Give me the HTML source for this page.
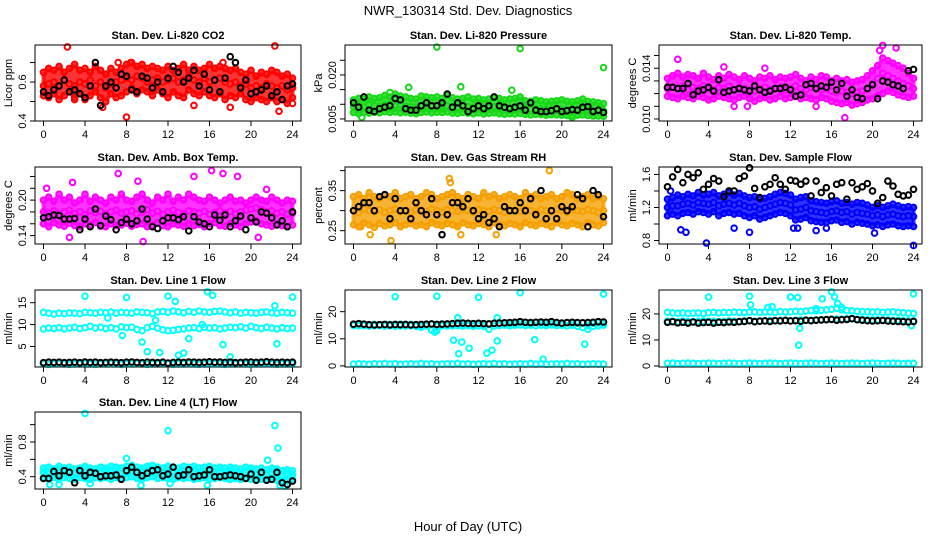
<!DOCTYPE html>
<html><head><meta charset="utf-8">
<style>
html,body{margin:0;padding:0;background:#fff;}
svg{display:block;font-family:"Liberation Sans",Arial,sans-serif;}
</style></head>
<body>
<svg id="chart" width="936" height="540" viewBox="0 0 936 540" xmlns="http://www.w3.org/2000/svg">
<rect x="0" y="0" width="936" height="540" fill="#fff"/>
<text x="468" y="15" font-size="13" text-anchor="middle">NWR_130314  Std. Dev. Diagnostics</text>
<text x="468" y="531" font-size="13" text-anchor="middle">Hour of Day (UTC)</text>
</svg>
<script>
const hours = [0,0.5,1,1.5,2,2.5,3,3.5,4,4.5,5,5.5,6,6.5,7,7.5,8,8.5,9,9.5,10,10.5,11,11.5,12,12.5,13,13.5,14,14.5,15,15.5,16,16.5,17,17.5,18,18.5,19,19.5,20,20.5,21,21.5,22,22.5,23,23.5,24];
const xTicks = [0,4,8,12,16,20,24];

// P1 CO2
const co2Hi = [0.65,0.67,0.66,0.68,0.65,0.67,0.69,0.66,0.67,0.65,0.68,0.66,0.64,0.67,0.65,0.67,0.69,0.70,0.68,0.69,0.67,0.68,0.67,0.66,0.68,0.66,0.67,0.69,0.66,0.68,0.66,0.67,0.69,0.67,0.68,0.67,0.66,0.67,0.65,0.64,0.66,0.63,0.65,0.64,0.66,0.65,0.63,0.64,0.62];
const co2Mid = [0.58,0.59,0.60,0.58,0.61,0.59,0.58,0.60,0.59,0.61,0.58,0.60,0.57,0.59,0.60,0.61,0.62,0.61,0.63,0.62,0.60,0.61,0.62,0.60,0.61,0.62,0.60,0.61,0.63,0.61,0.60,0.62,0.60,0.61,0.62,0.60,0.59,0.60,0.58,0.59,0.57,0.58,0.57,0.59,0.58,0.57,0.58,0.56,0.57];
const co2Lo = [0.53,0.52,0.54,0.51,0.53,0.55,0.52,0.54,0.51,0.53,0.55,0.52,0.50,0.54,0.52,0.53,0.55,0.57,0.54,0.56,0.55,0.53,0.56,0.54,0.52,0.55,0.53,0.52,0.56,0.54,0.53,0.55,0.53,0.52,0.54,0.51,0.53,0.52,0.54,0.51,0.50,0.52,0.51,0.50,0.52,0.50,0.51,0.49,0.52];
const co2Black = [0.55,0.53,0.56,0.58,0.61,0.55,0.56,0.54,0.52,0.58,0.70,0.48,0.58,0.60,0.57,0.64,0.63,0.56,0.55,0.63,0.62,0.57,0.60,0.55,0.62,0.68,0.65,0.60,0.62,0.66,0.58,0.64,0.56,0.61,0.55,0.62,0.73,0.70,0.57,0.61,0.54,0.55,0.56,0.58,0.53,0.55,0.51,0.58,0.59];
const co2OutX = [2.3,22.3,8,22.7,5.7,24,7.2,8.4,17.3,3,14.5,18];
const co2OutY = [0.78,0.785,0.42,0.45,0.47,0.49,0.70,0.70,0.70,0.51,0.48,0.47];

// P2 Pressure
const prsHi = [0.0115,0.012,0.0118,0.0125,0.012,0.0122,0.013,0.0125,0.0135,0.0128,0.0125,0.012,0.0118,0.0128,0.0125,0.0122,0.0125,0.012,0.013,0.0122,0.0118,0.012,0.0125,0.0118,0.012,0.0115,0.0118,0.0122,0.012,0.0115,0.0118,0.012,0.0125,0.0112,0.011,0.0115,0.0112,0.0108,0.011,0.0112,0.0115,0.011,0.0108,0.0112,0.0118,0.011,0.0108,0.0105,0.0102];
const prsMid = [0.0092,0.0095,0.009,0.0098,0.0095,0.0093,0.0098,0.01,0.0096,0.0098,0.0094,0.0092,0.009,0.0096,0.0094,0.0092,0.0097,0.0095,0.0094,0.0092,0.009,0.0094,0.0092,0.009,0.0092,0.0088,0.009,0.0092,0.0088,0.0087,0.009,0.0088,0.0092,0.0086,0.0084,0.0086,0.0084,0.0082,0.0084,0.0085,0.0083,0.0082,0.008,0.0083,0.0084,0.0082,0.008,0.0079,0.0078];
const prsLo = [0.0072,0.0068,0.0074,0.007,0.0073,0.0071,0.0075,0.0072,0.0074,0.0071,0.0073,0.007,0.0068,0.0072,0.0074,0.0071,0.0073,0.0072,0.0074,0.007,0.0069,0.0072,0.007,0.0068,0.0071,0.0067,0.0069,0.0071,0.0068,0.0066,0.0068,0.0067,0.0069,0.0066,0.0064,0.0066,0.0065,0.0063,0.0065,0.0064,0.0063,0.0062,0.0061,0.0063,0.0064,0.0062,0.006,0.006,0.0059];
const prsBlack = [0.0105,0.009,0.0125,0.008,0.0075,0.0085,0.009,0.0095,0.012,0.0115,0.0085,0.008,0.008,0.0095,0.0105,0.0095,0.0095,0.0105,0.0135,0.009,0.0105,0.0095,0.0075,0.0085,0.0095,0.0085,0.0095,0.0125,0.0095,0.009,0.0085,0.009,0.0095,0.008,0.0105,0.008,0.0075,0.0075,0.0078,0.0085,0.0075,0.0078,0.0082,0.008,0.009,0.0092,0.0075,0.008,0.0072];
const prsOutX = [8,16,24,10.3,15.2,5.3,0.8,21,3.5];
const prsOutY = [0.0295,0.029,0.0225,0.016,0.0148,0.0158,0.0055,0.0055,0.014];

// P3 Li-820 Temp
const tmpHi = [0.0132,0.0134,0.0136,0.0133,0.0135,0.0134,0.0132,0.0136,0.0133,0.0131,0.0134,0.0132,0.0135,0.0133,0.0131,0.0134,0.0132,0.013,0.0133,0.0132,0.0134,0.0131,0.0133,0.0132,0.0133,0.0135,0.0132,0.013,0.0133,0.0131,0.0134,0.0133,0.013,0.0132,0.013,0.0131,0.0129,0.013,0.0131,0.0134,0.0138,0.0142,0.0148,0.0146,0.0144,0.0142,0.014,0.0136,0.0132];
const tmpMid = [0.0124,0.0125,0.0124,0.0126,0.0123,0.0125,0.0124,0.0126,0.0124,0.0123,0.0125,0.0124,0.0126,0.0123,0.0125,0.0124,0.0123,0.0122,0.0124,0.0125,0.0123,0.0124,0.0125,0.0123,0.0124,0.0126,0.0124,0.0123,0.0125,0.0124,0.0123,0.0124,0.0122,0.0121,0.0122,0.0121,0.012,0.0121,0.0122,0.0124,0.0128,0.0132,0.0136,0.0134,0.0132,0.013,0.0128,0.0126,0.0124];
const tmpLo = [0.0118,0.0117,0.0116,0.0118,0.0117,0.0116,0.0118,0.0117,0.0115,0.0116,0.0118,0.0117,0.0116,0.0115,0.0117,0.0118,0.0116,0.0114,0.0116,0.0117,0.0115,0.0116,0.0118,0.0116,0.0117,0.0118,0.0116,0.0117,0.0116,0.0115,0.0117,0.0116,0.0114,0.0113,0.0112,0.0113,0.0111,0.0112,0.0113,0.0115,0.0116,0.0118,0.012,0.0122,0.0121,0.0119,0.0118,0.0117,0.0118];
const tmpBlack = [0.0125,0.0125,0.0124,0.0124,0.0128,0.0119,0.0122,0.0123,0.0125,0.0122,0.0131,0.0121,0.0122,0.0123,0.0124,0.0123,0.0122,0.0126,0.0123,0.0121,0.0122,0.0124,0.0124,0.0125,0.0123,0.0118,0.0119,0.0127,0.0128,0.0124,0.0126,0.0125,0.0129,0.0123,0.0128,0.0118,0.0123,0.0117,0.0116,0.0124,0.0127,0.0116,0.013,0.0129,0.0127,0.0126,0.0124,0.0138,0.0139];
const tmpOutX = [1,17.3,6.5,7.8,14.5,21,22.3,20.7,5.5,9.5];
const tmpOutY = [0.0147,0.0101,0.011,0.011,0.011,0.0158,0.0156,0.0154,0.0141,0.014];

// P4 Amb Box Temp
const ambHi = [0.20,0.205,0.198,0.21,0.2,0.205,0.195,0.2,0.21,0.198,0.205,0.2,0.195,0.205,0.2,0.21,0.2,0.198,0.205,0.21,0.2,0.195,0.205,0.2,0.21,0.198,0.205,0.2,0.21,0.205,0.2,0.198,0.205,0.2,0.195,0.2,0.205,0.198,0.2,0.195,0.2,0.205,0.2,0.198,0.205,0.2,0.195,0.2,0.198];
const ambMid = [0.18,0.178,0.182,0.176,0.18,0.183,0.177,0.18,0.175,0.182,0.179,0.181,0.176,0.18,0.183,0.178,0.18,0.182,0.177,0.18,0.184,0.178,0.181,0.176,0.18,0.183,0.179,0.177,0.182,0.18,0.178,0.181,0.176,0.179,0.182,0.178,0.181,0.177,0.18,0.183,0.185,0.187,0.184,0.18,0.182,0.178,0.18,0.176,0.178];
const ambLo = [0.16,0.155,0.162,0.158,0.156,0.161,0.157,0.155,0.16,0.158,0.162,0.156,0.155,0.16,0.157,0.158,0.161,0.156,0.159,0.16,0.155,0.158,0.162,0.157,0.155,0.16,0.158,0.156,0.161,0.157,0.159,0.155,0.16,0.162,0.157,0.156,0.16,0.158,0.155,0.16,0.163,0.165,0.16,0.158,0.156,0.16,0.157,0.155,0.158];
const ambBlack = [0.17,0.172,0.175,0.174,0.168,0.168,0.169,0.15,0.168,0.155,0.185,0.157,0.173,0.167,0.15,0.162,0.168,0.16,0.165,0.185,0.168,0.155,0.152,0.165,0.17,0.17,0.167,0.172,0.148,0.172,0.163,0.16,0.155,0.175,0.166,0.175,0.155,0.165,0.173,0.15,0.17,0.163,0.18,0.178,0.17,0.158,0.165,0.155,0.18];
const ambOutX = [0.3,2.8,7.2,9.1,14.5,16.2,17.3,18.7,9.6,2.5,21.5,20.7];
const ambOutY = [0.22,0.23,0.245,0.232,0.24,0.25,0.245,0.24,0.13,0.137,0.218,0.137];

// P5 Gas Stream RH
const rhHi = [0.335,0.34,0.33,0.345,0.335,0.33,0.34,0.335,0.345,0.33,0.335,0.34,0.33,0.335,0.345,0.34,0.33,0.335,0.34,0.345,0.335,0.33,0.34,0.335,0.33,0.345,0.335,0.34,0.33,0.335,0.34,0.335,0.33,0.345,0.335,0.34,0.33,0.335,0.34,0.33,0.335,0.345,0.34,0.33,0.335,0.34,0.33,0.335,0.33];
const rhMid = [0.30,0.295,0.305,0.30,0.298,0.302,0.296,0.30,0.304,0.298,0.30,0.296,0.302,0.30,0.298,0.304,0.30,0.296,0.302,0.30,0.298,0.304,0.30,0.296,0.302,0.30,0.298,0.303,0.30,0.296,0.302,0.30,0.298,0.304,0.30,0.296,0.302,0.30,0.298,0.304,0.30,0.296,0.302,0.30,0.298,0.303,0.30,0.296,0.30];
const rhLo = [0.265,0.26,0.27,0.265,0.258,0.268,0.262,0.265,0.27,0.26,0.265,0.268,0.262,0.265,0.26,0.27,0.265,0.262,0.268,0.265,0.26,0.27,0.265,0.262,0.268,0.265,0.26,0.27,0.265,0.262,0.268,0.265,0.26,0.27,0.265,0.262,0.268,0.265,0.26,0.27,0.265,0.262,0.268,0.265,0.26,0.27,0.265,0.262,0.27];
const rhBlack = [0.30,0.31,0.32,0.32,0.30,0.335,0.34,0.28,0.33,0.30,0.30,0.28,0.32,0.30,0.29,0.33,0.29,0.24,0.29,0.32,0.32,0.31,0.33,0.30,0.28,0.29,0.27,0.28,0.26,0.31,0.30,0.30,0.32,0.30,0.33,0.29,0.35,0.28,0.30,0.28,0.31,0.30,0.31,0.34,0.33,0.26,0.35,0.34,0.285];
const rhOutX = [3.6,9.2,18.8,0.7,10.3,1.6,13.7,9.3];
const rhOutY = [0.225,0.38,0.40,0.26,0.24,0.24,0.24,0.37];

// P6 Sample Flow
const sfHi = [1.3,1.32,1.35,1.33,1.36,1.34,1.38,1.35,1.36,1.38,1.34,1.36,1.38,1.35,1.37,1.34,1.32,1.33,1.3,1.31,1.33,1.36,1.38,1.37,1.35,1.3,1.32,1.33,1.28,1.27,1.26,1.25,1.27,1.28,1.25,1.26,1.24,1.26,1.25,1.23,1.2,1.22,1.2,1.22,1.24,1.22,1.2,1.21,1.2];
const sfMid = [1.2,1.22,1.22,1.24,1.25,1.23,1.26,1.25,1.24,1.26,1.22,1.24,1.25,1.23,1.25,1.22,1.2,1.21,1.18,1.2,1.22,1.24,1.26,1.25,1.23,1.17,1.18,1.2,1.16,1.15,1.14,1.13,1.15,1.16,1.14,1.15,1.12,1.14,1.13,1.12,1.1,1.11,1.09,1.11,1.12,1.1,1.09,1.1,1.09];
const sfLo = [1.1,1.12,1.1,1.13,1.14,1.12,1.15,1.14,1.12,1.15,1.1,1.13,1.14,1.12,1.13,1.1,1.08,1.1,1.06,1.08,1.1,1.12,1.14,1.13,1.1,1.05,1.06,1.08,1.04,1.03,1.02,1.02,1.04,1.05,1.02,1.03,1.0,1.02,1.01,1.0,0.98,0.99,0.97,0.99,1.0,0.98,0.97,0.98,0.97];
const sfBlack = [1.45,1.57,1.66,1.5,1.6,1.56,1.62,1.42,1.48,1.55,1.52,1.33,1.4,1.4,1.55,1.58,1.68,1.43,1.32,1.45,1.48,1.56,1.48,1.42,1.53,1.52,1.48,1.52,1.34,1.52,1.38,1.44,1.34,1.48,1.5,1.3,1.5,1.42,1.45,1.49,1.4,1.25,1.32,1.52,1.46,1.36,1.34,1.35,1.42];
const sfOutX = [3.8,24,1.3,1.8,8,12.3,12.7,14.5,20.2,6.5,15.5,0.3];
const sfOutY = [0.77,0.74,0.93,0.9,0.9,0.95,0.95,0.92,0.89,0.95,0.95,1.4];

// P7 Line 1 Flow
const l1Hi = [12.8,12.6,12.4,12.6,12.5,12.7,12.6,12.5,12.8,12.7,12.6,12.8,12.7,12.9,12.6,12.8,12.7,12.6,12.9,12.8,12.7,12.5,12.9,13.0,12.8,13.1,12.9,12.7,13.0,12.8,13.1,12.9,12.8,13.0,13.1,12.9,12.7,12.9,12.6,12.8,12.7,12.6,12.8,12.9,12.7,12.6,12.8,12.7,12.6];
const l1Mid = [9.0,9.2,9.1,9.3,9.0,9.2,9.4,9.1,9.3,9.6,9.2,9.4,9.1,9.3,9.0,9.5,9.3,9.4,8.9,8.6,9.3,9.6,9.2,8.8,8.6,8.7,8.9,9.0,9.2,9.3,9.1,9.4,9.2,9.3,9.0,9.2,9.4,9.3,9.5,9.2,9.6,9.3,9.1,9.4,9.2,9.0,9.3,9.1,9.2];
const l1Lo = [1.0,0.9,1.0,1.1,1.0,0.9,1.0,1.0,1.1,1.0,0.9,1.0,1.0,1.1,1.0,0.9,1.0,1.0,1.1,1.0,0.9,1.0,1.0,1.1,1.0,0.9,1.0,1.0,1.1,1.0,0.9,1.0,1.0,1.1,1.0,0.9,1.0,1.0,1.1,1.0,0.9,1.0,1.0,1.1,1.0,0.9,1.0,1.0,1.0];
const l1Black = [1.3,1.4,1.35,1.4,1.3,1.35,1.4,1.3,1.45,1.35,1.4,1.3,1.35,1.4,1.35,1.3,1.4,1.45,1.35,1.3,1.4,1.35,1.3,1.4,1.2,1.35,1.4,1.35,1.45,1.4,1.35,1.4,1.5,1.4,1.45,1.35,1.4,1.3,1.35,1.4,1.45,1.35,1.4,1.5,1.4,1.35,1.4,1.35,1.4];
const l1OutX = [4,8,12,15.8,16.3,24,9.5,10,11.2,13,13.5,17.3,18,22.5,12.7,7.6,22.3,14,6.2,10.8,15.3];
const l1OutY = [16.5,16.2,16.5,17.5,16.7,16.3,6,3.8,3.6,3,3.5,5.4,2.6,5.6,15.3,7.5,14.3,6.8,11.5,11,10];

// P8 Line 2 Flow
const l2Hi = [15.3,15.2,15.4,15.1,15.3,15.2,15.0,15.3,15.2,15.4,15.1,15.3,15.2,15.0,15.3,15.4,15.2,15.5,15.3,15.4,15.6,15.4,15.5,15.3,15.6,15.4,15.5,15.7,15.6,15.8,15.6,15.7,16.0,15.8,15.7,15.9,15.8,15.7,15.9,15.8,15.7,15.9,15.8,15.7,15.9,15.8,15.7,15.9,15.8];
const l2Mid = [14.9,14.8,14.9,14.7,14.8,14.9,14.7,14.8,14.6,14.8,14.7,14.9,14.6,14.3,14.7,13.2,14.6,14.8,14.7,14.8,14.9,14.7,14.9,14.6,14.8,14.6,13.5,14.8,14.9,15.0,14.8,15.0,15.1,14.9,15.0,14.8,15.0,14.9,15.1,14.9,15.0,14.8,15.0,14.6,14.2,14.8,14.6,14.8,15.0];
const l2Lo = [0.7,0.8,0.7,0.6,0.8,0.7,0.9,0.7,0.8,0.6,0.7,0.8,0.7,0.9,0.7,0.8,0.6,0.7,0.8,0.7,0.9,0.7,0.8,0.6,0.7,0.8,0.7,0.9,0.7,0.8,0.6,0.7,0.8,0.7,0.9,0.7,0.8,0.6,0.7,0.8,0.7,0.9,0.7,0.8,0.6,0.7,0.8,0.7,0.7];
const l2Black = [15.4,15.6,15.4,15.2,15.1,15.2,15.3,15.1,15.3,15.2,15.3,15.1,15.2,15.3,15.4,15.5,15.3,15.4,15.5,15.6,15.7,15.8,15.7,15.6,15.7,15.6,15.5,15.7,15.8,15.9,16.0,16.1,16.3,16.1,16.0,16.1,16.2,16.1,16.3,16.0,15.8,16.0,16.1,16.0,15.9,16.0,16.1,16.3,16.2];
const l2OutX = [4,8,12,16,24,9.6,10.1,10.4,11.1,12.8,13.3,13.8,17.4,18.2,22.2,8,10,13.8,7.8,22.5];
const l2OutY = [25.5,25.7,25.3,27,26.5,9.5,4.5,8.8,6.5,4.7,5.8,9.2,9.7,2.5,8,13,17.8,17.8,12.5,13.5];

// P9 Line 3 Flow
const l3Hi = [20.6,20.4,20.3,20.4,20.2,20.3,20.4,20.2,20.5,20.6,20.4,20.6,20.5,20.7,20.6,20.5,20.7,20.8,20.6,20.7,20.8,20.6,20.9,20.7,20.8,21.0,20.9,21.1,21.3,21.2,21.4,21.6,21.8,22.2,21.6,21.3,21.2,21.0,20.9,20.8,20.7,20.8,20.6,20.7,20.8,20.6,20.5,20.3,20.2];
const l3Mid = [17.2,17.1,17.0,17.2,17.1,17.0,17.2,17.3,17.1,17.2,17.0,17.1,17.3,17.2,17.1,17.3,17.4,17.2,17.3,17.4,17.5,17.4,17.6,17.5,17.4,17.6,17.7,17.5,17.6,17.7,17.8,17.9,18.0,18.1,18.0,18.2,18.1,18.0,17.9,17.8,17.7,17.8,17.6,17.7,17.5,17.6,17.4,17.3,17.2];
const l3Lo = [1.0,1.1,0.9,1.0,1.1,1.0,0.9,1.0,1.1,1.0,0.9,1.0,1.1,1.0,0.9,1.0,1.1,1.0,0.9,1.0,1.1,1.0,0.9,1.0,1.1,1.0,0.9,1.0,1.1,1.0,0.9,1.0,1.1,1.0,0.9,1.0,1.1,1.0,0.9,1.0,1.1,1.0,0.9,1.0,1.1,1.0,0.9,1.0,1.0];
const l3Black = [16.8,17.0,16.6,16.8,16.5,16.9,16.5,16.7,16.8,16.5,16.8,16.7,16.9,16.8,17.0,17.1,17.4,17.0,17.2,17.3,17.1,17.4,17.3,17.5,17.3,17.4,17.2,17.6,17.4,17.6,17.7,17.8,17.9,17.6,17.8,17.9,18.2,17.8,17.6,17.4,17.3,17.4,17.5,17.3,17.2,17.1,17.0,16.9,17.1];
const l3OutX = [4,8,8.1,12,12.7,15.1,16,16.3,24,12.9,12.8,16.6,9.8,10.2,14.5,17,23.8];
const l3OutY = [26.5,26.8,23.5,26.5,26.3,25.8,28.5,26.5,27.7,14.5,8,24,22.5,22.8,22,22.5,15.5];

// P10 Line 4 (LT) Flow
const l4Hi = [0.50,0.51,0.49,0.52,0.50,0.51,0.49,0.50,0.52,0.50,0.49,0.51,0.50,0.52,0.51,0.50,0.52,0.53,0.51,0.50,0.52,0.53,0.51,0.50,0.52,0.51,0.50,0.52,0.51,0.52,0.50,0.51,0.52,0.50,0.51,0.50,0.51,0.50,0.49,0.51,0.50,0.49,0.50,0.48,0.50,0.49,0.47,0.48,0.47];
const l4Mid = [0.45,0.44,0.46,0.45,0.44,0.46,0.45,0.44,0.46,0.45,0.44,0.46,0.45,0.46,0.45,0.44,0.46,0.47,0.45,0.44,0.46,0.47,0.45,0.44,0.46,0.45,0.44,0.46,0.45,0.46,0.44,0.45,0.46,0.44,0.45,0.44,0.45,0.44,0.43,0.45,0.44,0.43,0.44,0.42,0.44,0.43,0.41,0.42,0.42];
const l4Lo = [0.39,0.38,0.39,0.37,0.39,0.38,0.37,0.39,0.38,0.37,0.39,0.38,0.39,0.37,0.39,0.38,0.39,0.40,0.38,0.37,0.39,0.40,0.38,0.39,0.38,0.37,0.39,0.38,0.39,0.37,0.38,0.39,0.37,0.38,0.39,0.38,0.37,0.38,0.37,0.38,0.37,0.36,0.37,0.36,0.37,0.36,0.35,0.36,0.37];
const l4Black = [0.38,0.38,0.46,0.41,0.47,0.45,0.33,0.47,0.41,0.45,0.44,0.40,0.41,0.41,0.42,0.37,0.47,0.51,0.45,0.41,0.44,0.47,0.48,0.41,0.43,0.51,0.41,0.42,0.48,0.40,0.41,0.42,0.48,0.40,0.40,0.41,0.42,0.41,0.40,0.38,0.43,0.36,0.45,0.36,0.37,0.45,0.33,0.31,0.35];
const l4OutX = [4,12,22.3,22.6,21.6,8,9.4,0.6,15.8,23.3,22.8,4.5,1.5,12.2];
const l4OutY = [1.13,0.93,0.99,0.73,0.59,0.61,0.3,0.31,0.3,0.29,0.3,0.32,0.31,0.32];

const cols = [[35,301],[345,612],[659,922]];
const rows = [[45,121],[167,244],[290,367],[412,489]];

const panels = [
 {c:0,r:0,name:'co2',title:'Stan. Dev. Li-820 CO2',ylab:'Licor ppm',y0:0.4,y1:0.79,ticks:[0.4,0.5,0.6,0.7],labels:['0.4','','0.6',''],color:'#ff0000',band:true,hi:co2Hi,mid:co2Mid,lo:co2Lo,black:co2Black,ox:co2OutX,oy:co2OutY},
 {c:1,r:0,name:'pressure',title:'Stan. Dev. Li-820 Pressure',ylab:'kPa',y0:0.0043,y1:0.0302,ticks:[0.005,0.010,0.015,0.020,0.025],labels:['0.005','','','0.020',''],color:'#16d816',band:true,hi:prsHi,mid:prsMid,lo:prsLo,black:prsBlack,ox:prsOutX,oy:prsOutY},
 {c:2,r:0,name:'li820-temp',title:'Stan. Dev. Li-820 Temp.',ylab:'degrees C',y0:0.00984,y1:0.01583,ticks:[0.010,0.011,0.012,0.013,0.014,0.015],labels:['0.010','','','','0.014',''],color:'#ff00ff',band:true,hi:tmpHi,mid:tmpMid,lo:tmpLo,black:tmpBlack,ox:tmpOutX,oy:tmpOutY},
 {c:0,r:1,name:'amb-box-temp',title:'Stan. Dev. Amb. Box Temp.',ylab:'degrees C',y0:0.1258,y1:0.256,ticks:[0.14,0.16,0.18,0.20,0.22,0.24],labels:['0.14','','','0.20','',''],color:'#ff00ff',band:true,hi:ambHi,mid:ambMid,lo:ambLo,black:ambBlack,ox:ambOutX,oy:ambOutY},
 {c:1,r:1,name:'gas-stream-rh',title:'Stan. Dev. Gas Stream RH',ylab:'percent',y0:0.2167,y1:0.409,ticks:[0.25,0.30,0.35,0.40],labels:['0.25','','0.35',''],color:'#f5a000',band:true,hi:rhHi,mid:rhMid,lo:rhLo,black:rhBlack,ox:rhOutX,oy:rhOutY},
 {c:2,r:1,name:'sample-flow',title:'Stan. Dev. Sample Flow',ylab:'ml/min',y0:0.758,y1:1.69,ticks:[0.8,1.0,1.2,1.4,1.6],labels:['0.8','','1.2','','1.6'],color:'#0000ff',band:true,hi:sfHi,mid:sfMid,lo:sfLo,black:sfBlack,ox:sfOutX,oy:sfOutY},
 {c:0,r:2,name:'line1-flow',title:'Stan. Dev. Line 1 Flow',ylab:'ml/min',y0:0.31,y1:17.9,ticks:[5,10,15],labels:['5','10','15'],color:'#00ffff',band:false,hi:l1Hi,mid:l1Mid,lo:l1Lo,black:l1Black,ox:l1OutX,oy:l1OutY},
 {c:1,r:2,name:'line2-flow',title:'Stan. Dev. Line 2 Flow',ylab:'ml/min',y0:-0.4,y1:28,ticks:[0,10,20],labels:['0','10','20'],color:'#00ffff',band:false,hi:l2Hi,mid:l2Mid,lo:l2Lo,black:l2Black,ox:l2OutX,oy:l2OutY},
 {c:2,r:2,name:'line3-flow',title:'Stan. Dev. Line 3 Flow',ylab:'ml/min',y0:-0.4,y1:29.2,ticks:[0,10,20],labels:['0','10','20'],color:'#00ffff',band:false,hi:l3Hi,mid:l3Mid,lo:l3Lo,black:l3Black,ox:l3OutX,oy:l3OutY},
 {c:0,r:3,name:'line4-flow',title:'Stan. Dev. Line 4 (LT) Flow',ylab:'ml/min',y0:0.258,y1:1.146,ticks:[0.4,0.6,0.8,1.0],labels:['0.4','','0.8',''],color:'#00ffff',band:true,hi:l4Hi,mid:l4Mid,lo:l4Lo,black:l4Black,ox:l4OutX,oy:l4OutY}
];

const NS = 'http://www.w3.org/2000/svg';
const svg = document.getElementById('chart');
function mk(tag, attrs, parent){
  const e = document.createElementNS(NS, tag);
  for (const k in attrs) e.setAttribute(k, attrs[k]);
  parent.appendChild(e);
  return e;
}

panels.forEach(p => {
  const L = cols[p.c][0], R = cols[p.c][1], T = rows[p.r][0], B = rows[p.r][1];
  const xs = h => (L + 8.5) + (h / 24) * (R - L - 17);
  const ys = v => B - (v - p.y0) / (p.y1 - p.y0) * (B - T);
  const g = mk('g', {}, svg);
  
  

  const t = mk('text', {x:(L+R)/2, y:T-6, 'font-size':11, 'font-weight':'bold', 'text-anchor':'middle'}, g);
  t.textContent = p.title;
  
  

  const yl = mk('text', {x:0, y:0, 'font-size':11, 'text-anchor':'middle', transform:`translate(${L-23},${(T+B)/2}) rotate(-90)`}, g);
  yl.textContent = p.ylab;
  
  

  p.ticks.forEach((v, i) => {
    const y = ys(v);
    const tk = mk('line', {x1:L-5, x2:L, y1:y, y2:y, stroke:'#000', 'stroke-width':1}, g);
    
    
    if (p.labels[i]) {
      const lb = mk('text', {x:0, y:0, 'font-size':11, 'text-anchor':'middle', transform:`translate(${L-9},${y}) rotate(-90)`}, g);
      lb.textContent = p.labels[i];
      
      
    }
  });
  xTicks.forEach(h => {
    const x = xs(h);
    const tk = mk('line', {x1:x, x2:x, y1:B, y2:B+5, stroke:'#000', 'stroke-width':1}, g);
    
    
    const lb = mk('text', {x:x, y:B+17, 'font-size':11, 'text-anchor':'middle'}, g);
    lb.textContent = String(h);
    
    
  });

  if (p.band) {
    let d = '';
    p.hi.forEach((v, i) => { d += (i ? 'L' : 'M') + xs(hours[i]).toFixed(1) + ',' + ys(v).toFixed(1); });
    for (let i = p.lo.length - 1; i >= 0; i--) d += 'L' + xs(hours[i]).toFixed(1) + ',' + ys(p.lo[i]).toFixed(1);
    d += 'Z';
    const band = mk('path', {d:d, fill:p.color, 'fill-opacity':0.8, stroke:p.color, 'stroke-width':4, 'stroke-opacity':0.8, 'stroke-linejoin':'round'}, g);
    
    
  }

  const pts = mk('g', {fill:'none', 'stroke-width':2}, g);
  
  
  const dot = (h, v, col, nm) => {
    const c = mk('circle', {cx:xs(h), cy:ys(v), r:2.8, stroke:col}, pts);
    
    
  };
  [p.hi, p.mid, p.lo].forEach(arr => arr.forEach((v, i) => dot(hours[i], v, p.color, 'sample-point')));
  p.ox.forEach((h, i) => dot(h, p.oy[i], p.color, 'outlier-point'));
  p.black.forEach((v, i) => dot(hours[i], v, '#000', 'mean-point'));

  const box = mk('rect', {x:L, y:T, width:R-L, height:B-T, fill:'none', stroke:'#000', 'stroke-width':1}, g);
  
  
});
</script>
</body></html>
